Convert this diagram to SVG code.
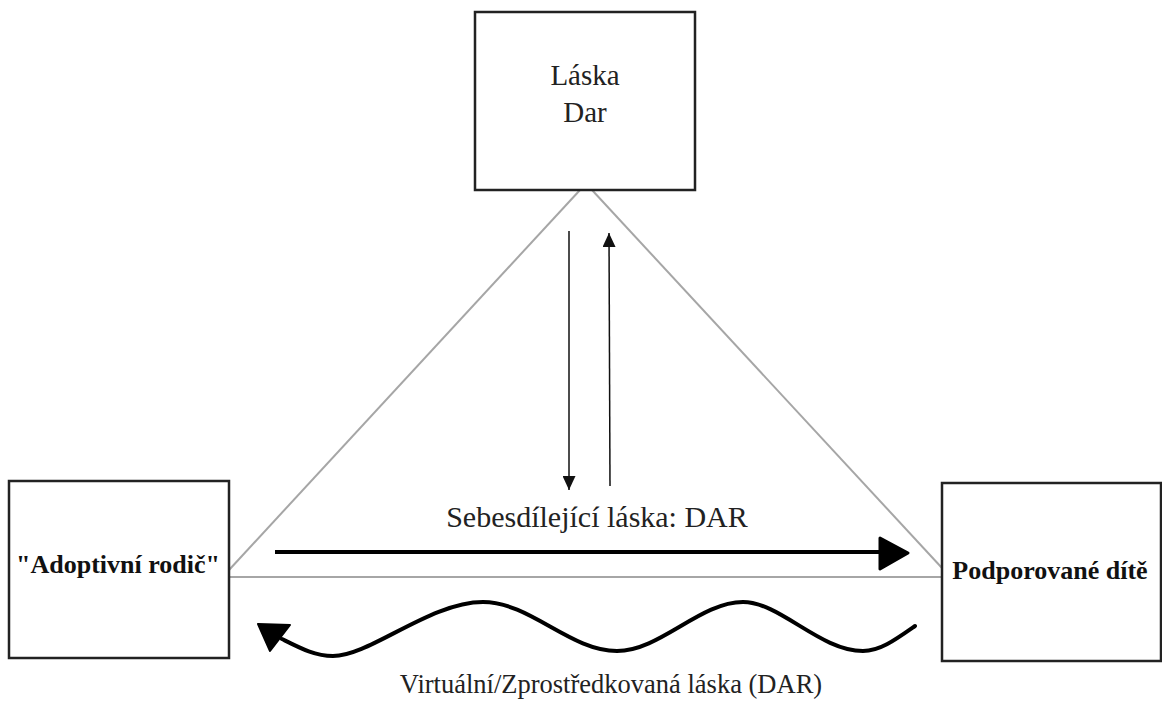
<svg xmlns="http://www.w3.org/2000/svg" width="1162" height="702" viewBox="0 0 1162 702">
<style>
.box{fill:#fff;stroke:#222;stroke-width:2.5}
.tri{stroke:#a6a6a6;stroke-width:2;fill:none}
.t{font-family:"Liberation Serif","Times New Roman",serif;fill:#222;text-anchor:middle}
.b{font-weight:bold;font-size:26px;fill:#111}
.thin{stroke:#111;stroke-width:1.5;fill:none}
</style>
<defs>
<marker id="ah" viewBox="0 0 14 13" refX="14" refY="6.5" markerWidth="14" markerHeight="13" markerUnits="userSpaceOnUse" orient="auto">
<path d="M0,0 L14,6.5 L0,13 Z" fill="#111"/>
</marker>
</defs>
<rect width="1162" height="702" fill="#fff"/>
<g id="connectors">
<line class="tri" x1="580" y1="190" x2="229" y2="570"/>
<line class="tri" x1="592" y1="190" x2="942" y2="568"/>
<line class="tri" x1="229" y1="577" x2="942" y2="577"/>
<line class="thin" x1="569" y1="231" x2="569" y2="490" marker-end="url(#ah)"/>
<line class="thin" x1="610" y1="486" x2="609" y2="233" stroke="#555" marker-end="url(#ah)"/>
<line x1="275" y1="552" x2="884" y2="552" stroke="#000" stroke-width="4"/>
<path d="M880,538 L908,553 L880,569 Z" fill="#000" stroke="#000" stroke-width="3" stroke-linejoin="round"/>
<path d="M915,626 C895,640 880,651 863,651 C820,651 780,602 743,602 C700,602 660,651 617,651 C570,651 530,602 483,602 C430,602 370,656 333,656 C315,656 300,648 282,639" fill="none" stroke="#000" stroke-width="4" stroke-linecap="round"/>
<path d="M258,624 L290,625 L270,651 Z" fill="#000" stroke="#000" stroke-width="2" stroke-linejoin="round"/>
<text class="t" x="597" y="527" font-size="30">Sebesdílející láska: DAR</text>
<text class="t" x="611" y="693" font-size="26.5">Virtuální/Zprostředkovaná láska (DAR)</text>
</g>
<g id="node-top">
<rect class="box" x="475" y="12" width="220" height="178"/>
<text class="t" x="585" y="85" font-size="29">Láska</text>
<text class="t" x="585" y="122" font-size="29">Dar</text>
</g>
<g id="node-left">
<rect class="box" x="9" y="481" width="220" height="177"/>
<text class="t b" x="118" y="573">"Adoptivní rodič"</text>
</g>
<g id="node-right">
<rect class="box" x="942" y="483" width="219" height="178"/>
<text class="t b" x="1050" y="579">Podporované dítě</text>
</g>
</svg>
